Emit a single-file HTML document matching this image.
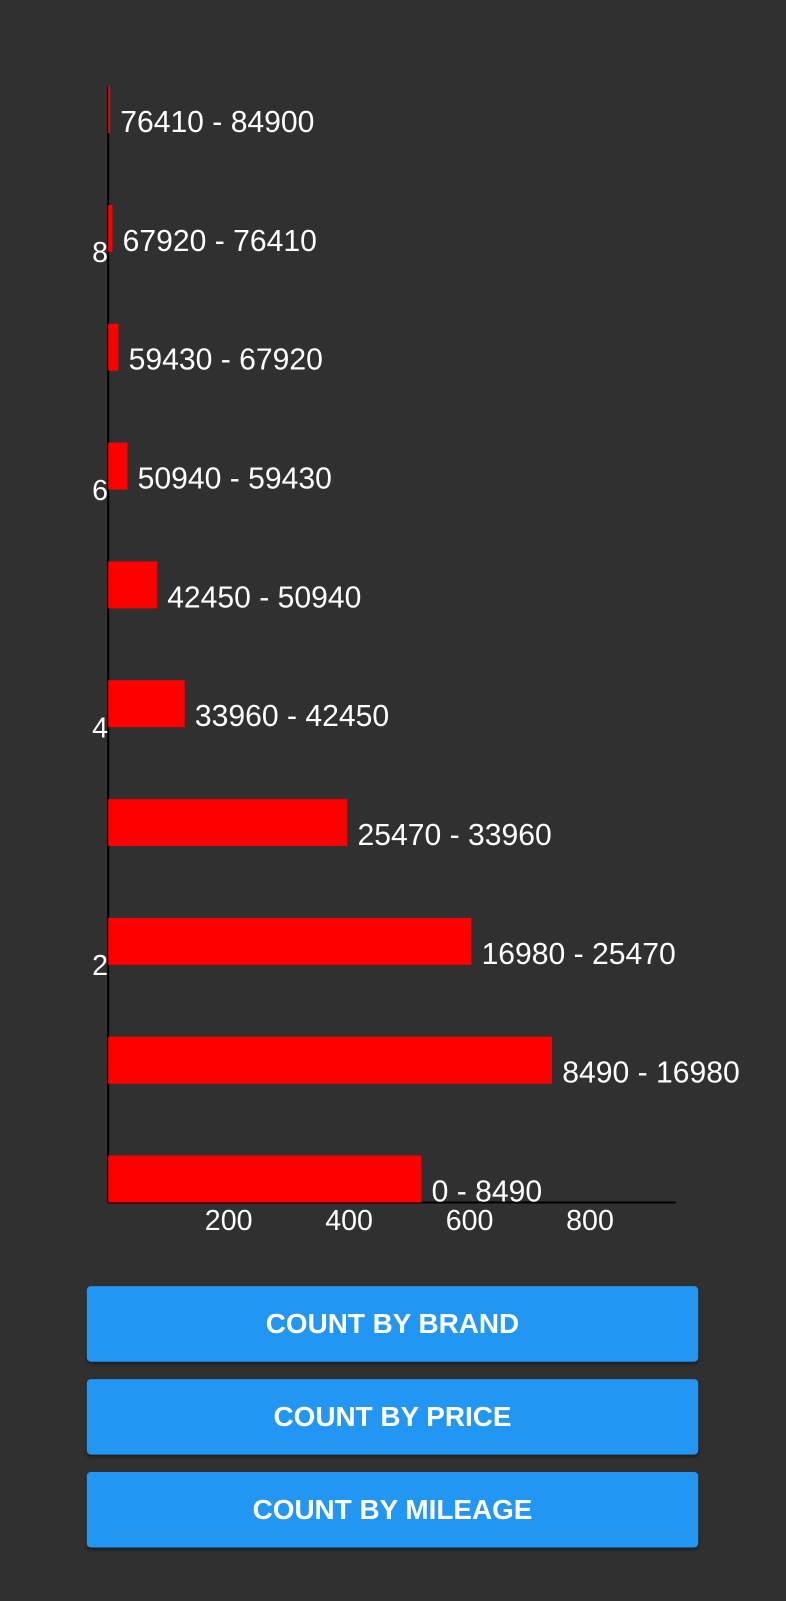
<!DOCTYPE html>
<html><head><meta charset="utf-8"><style>
html,body{margin:0;padding:0;background:#303030;width:786px;height:1600px;overflow:hidden}
#wrap{position:absolute;left:0;top:0;width:770px;height:1568px;transform:scale(1.020779);transform-origin:0 0;font-family:"Liberation Sans",sans-serif}
.btn{position:absolute;left:85px;width:599px;height:74px;background:#2196F3;border-radius:4px;color:#fff;font-weight:bold;font-size:27.3px;display:flex;align-items:center;justify-content:center;box-shadow:0 2px 3px rgba(0,0,0,.4)}
</style></head><body>
<div id="wrap">
<svg id="chart" width="770" height="1240" style="position:absolute;left:0;top:0"></svg>
<div class="btn" style="top:1260px">COUNT BY BRAND</div>
<div class="btn" style="top:1351px">COUNT BY PRICE</div>
<div class="btn" style="top:1442px">COUNT BY MILEAGE</div>
</div>
<script>
const categories=["0 - 8490","8490 - 16980","16980 - 25470","25470 - 33960","33960 - 42450","42450 - 50940","50940 - 59430","59430 - 67920","67920 - 76410","76410 - 84900"];
const counts=[520,737,603,397,127,81,32,17,7,3];
const xTicks=[200,400,600,800];
const yTickLabels=[2,4,6,8];
const NS="http://www.w3.org/2000/svg";
const svg=document.getElementById('chart');
const x0=106,pxPerUnit=0.59,axisY=1178,pitch=116.4,barH=46;
const xs=v=>x0+v*pxPerUnit;
const yBottom=i=>axisY-i*pitch;
function mk(t,a){const e=document.createElementNS(NS,t);for(const k in a)e.setAttribute(k,a[k]);svg.appendChild(e);return e;}
let yl=mk('line',{x1:x0,y1:85,x2:x0,y2:axisY,stroke:'#000','stroke-width':2});


let xl=mk('line',{x1:x0,y1:axisY,x2:662,y2:axisY,stroke:'#000','stroke-width':2});


counts.forEach((v,i)=>{
  const b=mk('rect',{x:x0,y:yBottom(i)-barH,width:Math.max(v*pxPerUnit,1.5),height:barH,fill:'#ff0000'});
  
  
  const t=mk('text',{x:xs(v)+10,y:yBottom(i)-1,fill:'#fff','font-size':29.5});
  t.textContent=categories[i];
  
  
});
xTicks.forEach(v=>{
  const t=mk('text',{x:xs(v),y:axisY+27,fill:'#fff','font-size':28,'text-anchor':'middle'});
  t.textContent=v;
  
  
});
yTickLabels.forEach(v=>{
  const t=mk('text',{x:98,y:yBottom(v)+10,fill:'#fff','font-size':28,'text-anchor':'middle'});
  t.textContent=v;
  
  
});
</script>
</body></html>
